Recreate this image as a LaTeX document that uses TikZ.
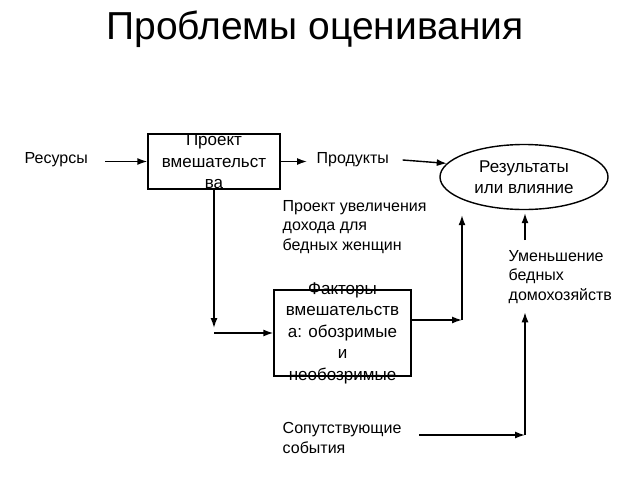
\documentclass[tikz,border=0pt]{standalone}
\usepackage{fontspec}
\setmainfont{Liberation Sans}
\usetikzlibrary{arrows.meta,shapes.geometric}

\tikzset{
  txt/.style={font=\fontsize{16}{19.5}\selectfont, inner sep=0pt, align=left},
  boxtxt/.style={font=\fontsize{17}{21.5}\selectfont, inner sep=0pt, align=center},
  frame/.style={draw, inner sep=0pt}
}

\begin{document}
\begin{tikzpicture}[x=1pt,y=-1pt,line width=1.4pt,>={Latex[length=10pt,width=7pt]}]
    \useasboundingbox (0,0) rectangle (640,480);
		
		\node (title) at (315,29) {\fontsize{39}{42}\selectfont Проблемы оценивания};
		
		\node [frame, minimum width=132pt, minimum height=55pt] (proj) at (214,161.5) {};
		\node [boxtxt] (projtxt) at (proj.center) {Проект\\вмешательст\\ва};
		
		\node [frame, minimum width=137pt, minimum height=86pt] (fact) at (342.5,333) {};
		\node [boxtxt] (facttxt) at (fact.center) {Факторы\\вмешательств\\а: обозримые\\и\\необозримые};
		
		\node [frame, ellipse, minimum width=168pt, minimum height=65pt] (outc) at (524,177) {};
		\node [boxtxt] (outctxt) at (outc.center) {Результаты\\или влияние};
		
		\node [txt, anchor=west] (res) at (24,160) {Ресурсы};
		\node [txt, anchor=west] (prod) at (316,160) {Продукты};
		\node [txt, anchor=west] (inc) at (282,227) {Проект увеличения\\дохода для\\бедных женщин};
		\node [txt, anchor=west] (dec) at (508,277) {Уменьшение\\бедных\\домохозяйств};
		\node [txt, anchor=west] (ev) at (282,438) {Сопутствующие\\события};
		
		\coordinate (c1) at (proj.south |- fact.west);
		\coordinate (c2) at (462,320);
		\coordinate (c3) at (525,240);
		\coordinate (c4) at (525,435);
		
		\draw [->, shorten <=17pt] (res.east |- proj.west) -- (proj.west);
		\draw [->, shorten >=9pt] (proj.east) -- (proj.east -| prod.west);
		\draw [->] ([xshift=13pt]prod.east) -- (outc.170);
		
		\draw [->, shorten >=5pt] (proj.south) -- (c1);
		\draw [->] (c1) -- (fact.west);
		
		\draw [->] (fact.east |- c2) -- (c2);
		\draw [->, shorten >=5pt] (c2) -- (c2 |- outc.south);
		
		\draw [->, shorten >=3pt] (c3) -- (c3 |- outc.south);
		
		\draw [->, shorten <=17pt] (ev.east |- c4) -- (c4);
		\draw [->, shorten >=8pt] (c4) -- (c4 |- dec.south);
		
\end{tikzpicture}
\end{document}
